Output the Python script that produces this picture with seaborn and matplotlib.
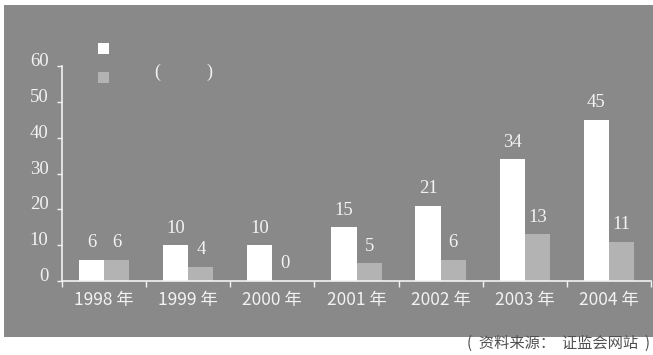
import matplotlib
matplotlib.use("Agg")
import matplotlib.pyplot as plt
from matplotlib.patches import Rectangle
import pandas as pd
import seaborn as sns

# Data
years = ["1998 年", "1999 年", "2000 年", "2001 年", "2002 年", "2003 年", "2004 年"]
series_names = ["A", "B"]
series_a = [6, 10, 10, 15, 21, 34, 45]
series_b = [6, 4, 0, 5, 6, 13, 11]
y_ticks = [0, 10, 20, 30, 40, 50, 60]
source_note = "(  资料来源：  证监会网站  )"

df = pd.DataFrame({
    "year": years * 2,
    "series": [series_names[0]] * len(years) + [series_names[1]] * len(years),
    "value": series_a + series_b,
})

BG = "#898989"
LIGHT = "#f2f2f2"
BAR_A = "#ffffff"
BAR_B = "#b3b3b3"
SERIF = "Liberation Serif"
SANS = ["Noto Sans CJK SC", "DejaVu Sans"]

sns.set_theme(style="white")
plt.rcParams["font.family"] = SANS

W, H = 653, 355
fig = plt.figure(figsize=(W / 100, H / 100), dpi=100, facecolor="white")

# grey panel behind the chart
fig.add_artist(Rectangle((4 / W, 18.5 / H), (W - 4) / W, (350 - 18.5) / H,
                         transform=fig.transFigure, facecolor=BG,
                         edgecolor="none", zorder=0))

ax = fig.add_axes([62 / W, 74 / H, (651 - 62) / W, (289 - 74) / H])
ax.set_facecolor("none")

sns.barplot(data=df, x="year", y="value", hue="series", order=years,
            hue_order=series_names, palette=[BAR_A, BAR_B], saturation=1,
            width=0.6, gap=0, linewidth=0, legend=False, ax=ax)

ax.set_xlim(-0.5, len(years) - 0.5)
ax.set_ylim(0, 60)
ax.set_xlabel("")
ax.set_ylabel("")

# value labels above each bar
for cont in ax.containers:
    labels = ax.bar_label(cont, fmt="%d", padding=9, color=LIGHT,
                          fontsize=13.5, family=SERIF)
    for t in labels:
        t.set_va("baseline")
        t.set_clip_on(False)

# axes styling
for side in ["top", "right"]:
    ax.spines[side].set_visible(False)
for side in ["left", "bottom"]:
    ax.spines[side].set_color(LIGHT)
    ax.spines[side].set_linewidth(1.2)

ax.set_yticks(y_ticks)
ax.set_yticklabels([str(v) for v in y_ticks])
ax.tick_params(axis="y", which="major", direction="out", length=3.8, width=1,
               color=LIGHT, left=True, pad=6, labelcolor=LIGHT, labelsize=13.5)
for lbl in ax.get_yticklabels():
    lbl.set_family(SERIF)
    lbl.set_va("baseline")

ax.set_xticks(range(len(years)))
ax.set_xticks([i - 0.5 for i in range(len(years) + 1)], minor=True)
ax.tick_params(axis="x", which="major", length=0, pad=7, labelcolor=LIGHT,
               labelsize=12.5)
ax.tick_params(axis="x", which="minor", direction="out", length=4.5, width=1,
               color=LIGHT, bottom=True)
for lbl in ax.get_xticklabels():
    lbl.set_fontweight("light")

# legend swatches
fig.add_artist(Rectangle((98 / W, (H - 54) / H), 11 / W, 11 / H,
                         transform=fig.transFigure, facecolor=BAR_A,
                         edgecolor="none"))
fig.add_artist(Rectangle((98 / W, (H - 83) / H), 11 / W, 11 / H,
                         transform=fig.transFigure, facecolor=BAR_B,
                         edgecolor="none"))
fig.text(157 / W, (H - 72) / H, "(", color=LIGHT, fontsize=13, family=SERIF,
         ha="center", va="center")
fig.text(209 / W, (H - 72) / H, ")", color=LIGHT, fontsize=13, family=SERIF,
         ha="center", va="center")

# source note
fig.text(650 / W, (H - 343) / H, source_note, color="#505050", fontsize=11,
         ha="right", va="center")

fig.savefig("out.png", dpi=100, facecolor="white")
